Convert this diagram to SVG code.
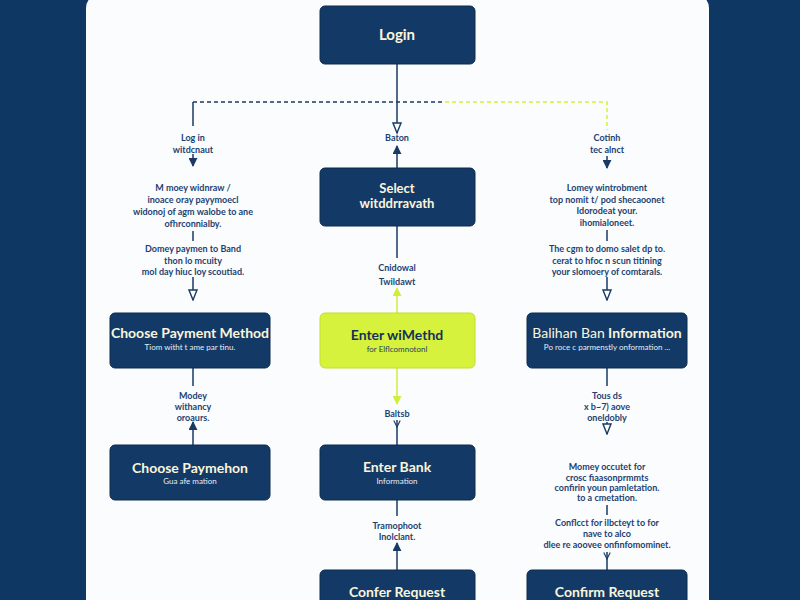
<svg xmlns="http://www.w3.org/2000/svg" width="800" height="600" viewBox="0 0 800 600">
<style>
.node{fill:#133a67;stroke:#0c2a4d;stroke-width:1}
.lime{fill:#d6f23c;stroke:#c4de2c;stroke-width:1}
.title{font-family:Lato,"Open Sans",sans-serif;font-weight:700;fill:#fbf5dc;text-anchor:middle}
.titleDark{font-family:Lato,"Open Sans",sans-serif;font-weight:700;fill:#15305a;text-anchor:middle}
.sub{font-family:Lato,"Open Sans",sans-serif;font-size:8px;fill:#e6ecf3;text-anchor:middle}
.subDark{font-family:Lato,"Open Sans",sans-serif;font-size:8px;fill:#2a4060;text-anchor:middle}
.lbl{font-family:Lato,"Open Sans",sans-serif;font-size:9px;font-weight:700;fill:#1d4272;text-anchor:middle}
.ln{stroke:#1a3a64;stroke-width:1.5;fill:none}
.lnl{stroke:#d2ec3a;stroke-width:1.5;fill:none}
.dash{stroke:#1a3a64;stroke-width:1.5;stroke-dasharray:4 3;fill:none}
.dashl{stroke:#d8ee3a;stroke-width:1.5;stroke-dasharray:4 3;fill:none}
</style>
<defs>
<marker id="hollow" viewBox="0 0 12 10" refX="11" refY="5" markerWidth="12" markerHeight="10" markerUnits="userSpaceOnUse" orient="auto">
<path d="M1,1 L11,5 L1,9 Z" fill="#ffffff" stroke="#1a3a64" stroke-width="1.4"/>
</marker>
<marker id="solid" viewBox="0 0 10 10" refX="9" refY="5" markerWidth="9" markerHeight="9" markerUnits="userSpaceOnUse" orient="auto">
<path d="M0,0 L10,5 L0,10 Z" fill="#1a3a64"/>
</marker>
<marker id="solidL" viewBox="0 0 10 10" refX="9" refY="5" markerWidth="9" markerHeight="9" markerUnits="userSpaceOnUse" orient="auto">
<path d="M0,0 L10,5 L0,10 Z" fill="#d2ec3a"/>
</marker>
<marker id="vee" viewBox="0 0 10 10" refX="9" refY="5" markerWidth="8" markerHeight="8" markerUnits="userSpaceOnUse" orient="auto">
<path d="M1,1 L9,5 L1,9" fill="none" stroke="#1a3a64" stroke-width="1.4"/>
</marker>
</defs>
<rect x="0" y="0" width="800" height="600" fill="#0e3764"/>
<rect x="86" y="-6" width="623" height="620" rx="14" fill="#fbfcfd"/>

<g id="connectors">
<line class="ln" x1="397" y1="64" x2="397" y2="133" marker-end="url(#hollow)"/>
<line class="ln" x1="397" y1="168" x2="397" y2="146" marker-end="url(#solid)"/>
<path class="ln" d="M193,126 V102"/>
<path class="dash" d="M193,102 H445"/>
<path class="dashl" d="M445,102 H607 V130"/>
<line class="ln" x1="193" y1="154" x2="193" y2="166" marker-end="url(#solid)"/>
<line class="ln" x1="607" y1="156" x2="607" y2="168" marker-end="url(#solid)"/>
<line class="ln" x1="193" y1="231" x2="193" y2="241"/>
<line class="ln" x1="193" y1="277" x2="193" y2="300" marker-end="url(#hollow)"/>
<line class="ln" x1="607" y1="230" x2="607" y2="241"/>
<line class="ln" x1="607" y1="277" x2="607" y2="300" marker-end="url(#hollow)"/>
<line class="ln" x1="397" y1="226" x2="397" y2="258"/>
<line class="lnl" x1="397" y1="313" x2="397" y2="288" marker-end="url(#solidL)"/>
<line class="ln" x1="193" y1="368" x2="193" y2="386"/>
<line class="ln" x1="193" y1="445" x2="193" y2="422" marker-end="url(#solid)"/>
<line class="lnl" x1="397" y1="368" x2="397" y2="404" marker-end="url(#solidL)"/>
<line class="ln" x1="397" y1="420" x2="397" y2="427" marker-end="url(#vee)"/>
<line class="ln" x1="397" y1="427" x2="397" y2="445"/>
<line class="ln" x1="607" y1="368" x2="607" y2="386"/>
<line class="ln" x1="607" y1="422" x2="607" y2="434" marker-end="url(#hollow)"/>
<line class="ln" x1="397" y1="500" x2="397" y2="516"/>
<line class="ln" x1="397" y1="570" x2="397" y2="543" marker-end="url(#solid)"/>
<line class="ln" x1="607" y1="505" x2="607" y2="515"/>
<line class="ln" x1="607" y1="552" x2="607" y2="559" marker-end="url(#vee)"/>
<line class="ln" x1="607" y1="559" x2="607" y2="570"/>
</g>

<g id="labels">
<text class="lbl" x="193" y="141">Log in</text>
<text class="lbl" x="193" y="153">witdcnaut</text>
<text class="lbl" x="397" y="141">Baton</text>
<text class="lbl" x="607" y="141">Cotinh</text>
<text class="lbl" x="607" y="153">tec alnct</text>
<text class="lbl" x="193" y="191">M moey widnraw /</text>
<text class="lbl" x="193" y="203">inoace oray payymoecl</text>
<text class="lbl" x="193" y="215">widonoj of agm walobe to ane</text>
<text class="lbl" x="193" y="227">ofhrconnialby.</text>
<text class="lbl" x="193" y="252">Domey paymen to Band</text>
<text class="lbl" x="193" y="264">thon lo mcuity</text>
<text class="lbl" x="193" y="275">mol day hiuc loy scoutiad.</text>
<text class="lbl" x="607" y="191">Lomey wintrobment</text>
<text class="lbl" x="607" y="203">top nomit t/ pod shecaoonet</text>
<text class="lbl" x="607" y="214">Idorodeat your.</text>
<text class="lbl" x="607" y="226">ihomialoneet.</text>
<text class="lbl" x="607" y="252">The cgm to domo salet dp to.</text>
<text class="lbl" x="607" y="264">cerat to hfoc n scun titining</text>
<text class="lbl" x="607" y="275">your slomoery of comtarals.</text>
<text class="lbl" x="397" y="271">Cnidowal</text>
<text class="lbl" x="397" y="285">Twildawt</text>
<text class="lbl" x="193" y="399">Modey</text>
<text class="lbl" x="193" y="410">withancy</text>
<text class="lbl" x="193" y="421">oroaurs.</text>
<text class="lbl" x="397" y="417">Baltsb</text>
<text class="lbl" x="607" y="399">Tous ds</text>
<text class="lbl" x="607" y="410">x b~7) aove</text>
<text class="lbl" x="607" y="421">oneldobly</text>
<text class="lbl" x="397" y="529">Tramophoot</text>
<text class="lbl" x="397" y="540">Inolclant.</text>
<text class="lbl" x="607" y="470">Momey occutet for</text>
<text class="lbl" x="607" y="481">crosc fiaasonprmmts</text>
<text class="lbl" x="607" y="491">confirin youn pamletation.</text>
<text class="lbl" x="607" y="501">to a cmetation.</text>
<text class="lbl" x="607" y="526">Conflcct for ilbcteyt to for</text>
<text class="lbl" x="607" y="537">nave to alco</text>
<text class="lbl" x="607" y="548">dlee re aoovee onfinfomominet.</text>
</g>

<g id="login">
<rect class="node" x="320" y="6" width="155" height="58" rx="5"/>
<text class="title" x="397" y="40" font-size="15">Login</text>
</g>
<g id="select">
<rect class="node" x="320" y="168" width="155" height="58" rx="5"/>
<text class="title" x="397" y="193" font-size="13">Select</text>
<text class="title" x="397" y="208" font-size="13">witddrravath</text>
</g>
<g id="choose-payment-method">
<rect class="node" x="110" y="313" width="160" height="55" rx="5"/>
<text class="title" x="190" y="338" font-size="14">Choose Payment Method</text>
<text class="sub" x="190" y="350">Tiom witht t ame par tinu.</text>
</g>
<g id="enter-method">
<rect class="lime" x="320" y="313" width="155" height="55" rx="5"/>
<text class="titleDark" x="397" y="340" font-size="14">Enter wiMethd</text>
<text class="subDark" x="397" y="352">for Elflcomnotonl</text>
</g>
<g id="bank-information">
<rect class="node" x="527" y="313" width="160" height="55" rx="5"/>
<text class="title" x="607" y="338" font-size="14"><tspan font-weight="400">Balihan Ban</tspan> Information</text>
<text class="sub" x="607" y="350">Po roce c parmenstly onformation ...</text>
</g>
<g id="choose-paymehon">
<rect class="node" x="110" y="445" width="160" height="55" rx="5"/>
<text class="title" x="190" y="473" font-size="14">Choose Paymehon</text>
<text class="sub" x="190" y="484">Gua afe mation</text>
</g>
<g id="enter-bank">
<rect class="node" x="320" y="445" width="155" height="55" rx="5"/>
<text class="title" x="397" y="472" font-size="14">Enter Bank</text>
<text class="sub" x="397" y="484">Information</text>
</g>
<g id="confer-request">
<rect class="node" x="320" y="570" width="155" height="50" rx="5"/>
<text class="title" x="397" y="597" font-size="14">Confer Request</text>
</g>
<g id="confirm-request">
<rect class="node" x="527" y="570" width="160" height="50" rx="5"/>
<text class="title" x="607" y="597" font-size="14">Confirm Request</text>
</g>
</svg>
